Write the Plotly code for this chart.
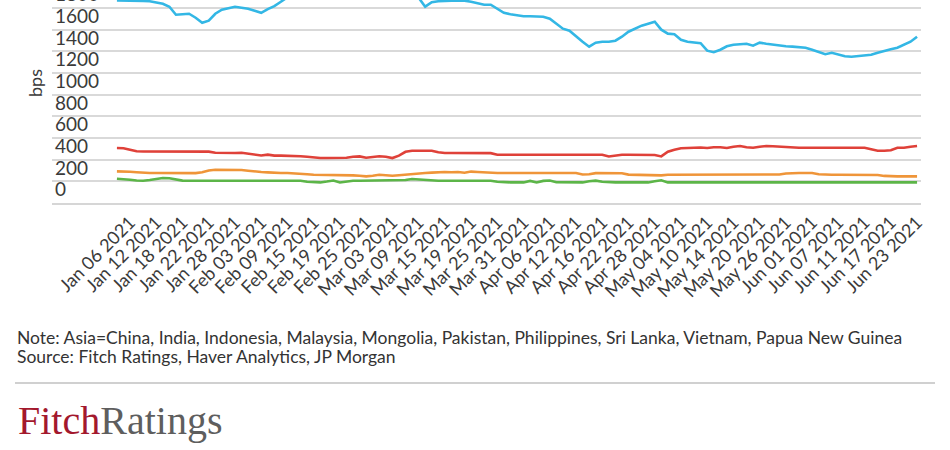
import pandas as pd
import plotly.graph_objects as go

# ---------------- data ----------------
DATES = [d.strftime("%b %d %Y") for d in pd.bdate_range("2021-01-04", "2021-06-23")]

TICK_LABELS = [
    "Jan 06 2021", "Jan 12 2021", "Jan 18 2021", "Jan 22 2021", "Jan 28 2021",
    "Feb 03 2021", "Feb 09 2021", "Feb 15 2021", "Feb 19 2021", "Feb 25 2021",
    "Mar 03 2021", "Mar 09 2021", "Mar 15 2021", "Mar 19 2021", "Mar 25 2021",
    "Mar 31 2021", "Apr 06 2021", "Apr 12 2021", "Apr 16 2021", "Apr 22 2021",
    "Apr 28 2021", "May 04 2021", "May 10 2021", "May 14 2021", "May 20 2021",
    "May 26 2021", "Jun 01 2021", "Jun 07 2021", "Jun 11 2021", "Jun 17 2021",
    "Jun 23 2021",
]

Y_TICKS = [0, 200, 400, 600, 800, 1000, 1200, 1400, 1600, 1800]

CYAN = [
    1870, 1870, 1870, 1868, 1866, 1862, 1853, 1839, 1812, 1738,
    1742, 1747, 1710, 1664, 1683, 1747, 1784, 1798, 1812, 1803,
    1793, 1775, 1756, 1789, 1817, 1858, 1900, 1940, 1970, 1990,
    2000, 2010, 2000, 1990, 2000, 2010, 2000, 1990, 1980, 1990,
    2000, 1990, 1970, 1950, 1930, 1910, 1895, 1812, 1853, 1862,
    1867, 1867, 1867, 1867, 1858, 1844, 1830, 1830, 1793, 1756,
    1742, 1733, 1724, 1724, 1724, 1720, 1701, 1655, 1609, 1590,
    1535, 1489, 1443, 1480, 1489, 1489, 1498, 1535, 1581, 1609,
    1637, 1655, 1674, 1600, 1563, 1558, 1507, 1489, 1484, 1475,
    1406, 1392, 1415, 1447, 1461, 1466, 1470, 1452, 1480, 1470,
    1461, 1452, 1447, 1443, 1438, 1433, 1415, 1397, 1373, 1387,
    1369, 1355, 1350, 1355, 1364, 1369, 1387, 1406, 1420, 1433,
    1461, 1489, 1535,
]

RED = [
    508, 506, 492, 478, 476, 476, 476, 476, 476, 476,
    476, 476, 476, 476, 474, 464, 462, 462, 462, 464,
    455, 446, 439, 446, 437, 437, 437, 437, 432, 427,
    418, 415, 415, 415, 415, 418, 427, 430, 418, 427,
    432, 427, 415, 437, 473, 483, 483, 483, 483, 469,
    462, 462, 462, 462, 462, 462, 462, 460, 446, 446,
    446, 446, 446, 446, 446, 446, 446, 446, 446, 446,
    446, 446, 446, 446, 446, 430, 441, 446, 446, 446,
    446, 446, 443, 430, 473, 492, 506, 508, 510, 513,
    508, 515, 515, 508, 520, 526, 515, 510, 520, 526,
    524, 520, 517, 510, 510, 510, 510, 510, 510, 510,
    510, 510, 510, 510, 510, 497, 483, 483, 487, 510,
    510, 520, 526,
]

ORANGE = [
    292, 292, 288, 284, 278, 277, 277, 277, 277, 277,
    277, 277, 276, 283, 300, 307, 307, 307, 307, 305,
    298, 290, 286, 283, 277, 277, 277, 275, 270, 265,
    261, 261, 261, 261, 261, 258, 255, 252, 246, 252,
    261, 256, 252, 256, 261, 270, 277, 277, 280, 284,
    286, 284, 286, 280, 290, 286, 282, 278, 277, 277,
    277, 277, 277, 277, 277, 277, 277, 277, 277, 277,
    277, 263, 265, 276, 274, 272, 274, 274, 262, 261,
    261, 261, 256, 255, 261, 261, 261, 261, 261, 261,
    261, 261, 261, 261, 261, 261, 261, 261, 261, 261,
    261, 263, 272, 277, 277, 277, 277, 266, 261, 261,
    261, 261, 261, 261, 261, 261, 258, 250, 246, 246,
    246, 246, 246,
]

GREEN = [
    224, 222, 215, 208, 206, 212, 220, 230, 228, 215,
    207, 206, 206, 206, 206, 206, 206, 206, 206, 206,
    206, 206, 206, 206, 206, 206, 206, 206, 206, 196,
    190, 190, 198, 208, 190, 200, 206, 206, 206, 206,
    206, 206, 206, 206, 212, 222, 218, 208, 206, 206,
    206, 206, 206, 206, 206, 206, 206, 206, 196, 190,
    190, 190, 190, 204, 190, 204, 208, 192, 190, 190,
    190, 190, 200, 206, 196, 190, 190, 190, 190, 190,
    190, 190, 200, 210, 190, 190, 190, 190, 190, 190,
    190, 190, 190, 190, 190, 190, 190, 190, 190, 190,
    190, 190, 190, 190, 190, 190, 190, 190, 190, 190,
    190, 190, 190, 190, 190, 190, 190, 190, 190, 190,
    190, 190, 190,
]

SERIES = [
    ("Series A", CYAN, "#33b7e5"),
    ("Series B", RED, "#df4139"),
    ("Series C", ORANGE, "#ef9539"),
    ("Series D", GREEN, "#5cb548"),
]

# ---------------- layout geometry ----------------
W, H = 950, 450
ML, MR, MT, MB = 52, 29, 0, 247
PW, PH = W - ML - MR, H - MT - MB


def px_x(p):
    return (p - ML) / PW


def px_y(p):
    return (H - MB - p) / PH


fig = go.Figure()
for name, vals, color in SERIES:
    fig.add_trace(go.Scatter(
        x=DATES, y=vals, mode="lines", name=name,
        line=dict(color=color, width=2.6), showlegend=False,
    ))

tick_vals = [d for d in DATES if d in TICK_LABELS]

fig.update_layout(
    width=W, height=H,
    margin=dict(l=ML, r=MR, t=MT, b=MB, pad=0, autoexpand=False),
    paper_bgcolor="white", plot_bgcolor="white",
    font=dict(family="Lato", color="#444"),
    xaxis=dict(
        type="category", automargin=False,
        range=[-9.9, 122.6],
        tickmode="array", tickvals=tick_vals, ticktext=TICK_LABELS,
        tickangle=-45, tickfont=dict(size=18, color="#3a3a3a", family="Lato"),
        showgrid=False, showline=True, linecolor="#d6d6d6", linewidth=1.6,
        ticks="", zeroline=False,
    ),
    yaxis=dict(
        automargin=False,
        range=[0, PH / (195 / 1800)],
        tickmode="array", tickvals=Y_TICKS,
        ticklabelposition="inside top", ticklabeloverflow="allow",
        tickfont=dict(size=19, color="#3a3a3a", family="Lato"),
        showgrid=True, gridcolor="#d9d9d9", gridwidth=1.5,
        zeroline=False, showline=False, ticks="",
    ),
)

fig.add_annotation(
    text="bps", x=px_x(35), y=px_y(83), xref="paper", yref="paper",
    showarrow=False, textangle=-90, font=dict(size=18, color="#3a3a3a", family="Lato"),
    xanchor="center", yanchor="middle",
)
fig.add_annotation(
    text="Note: Asia=China, India, Indonesia, Malaysia, Mongolia, Pakistan, Philippines, Sri Lanka, Vietnam, Papua New Guinea",
    x=px_x(15), y=px_y(337), xref="paper", yref="paper", showarrow=False,
    xanchor="left", yanchor="middle", font=dict(size=17.5, color="#333", family="Lato"),
)
fig.add_annotation(
    text="Source: Fitch Ratings, Haver Analytics, JP Morgan",
    x=px_x(15), y=px_y(356), xref="paper", yref="paper", showarrow=False,
    xanchor="left", yanchor="middle", font=dict(size=17.5, color="#333", family="Lato"),
)
fig.add_shape(
    type="line", xref="paper", yref="paper",
    x0=px_x(15), x1=px_x(935), y0=px_y(383), y1=px_y(383),
    line=dict(color="#d0d0d0", width=2),
)
fig.add_annotation(
    text="<span style='color:#a3182d'>Fitch</span><span style='color:#5e5e5e'>Ratings</span>",
    x=px_x(16), y=px_y(421), xref="paper", yref="paper", showarrow=False,
    xanchor="left", yanchor="middle", font=dict(size=40, family="Liberation Serif"),
)

fig.write_html("out.html")
